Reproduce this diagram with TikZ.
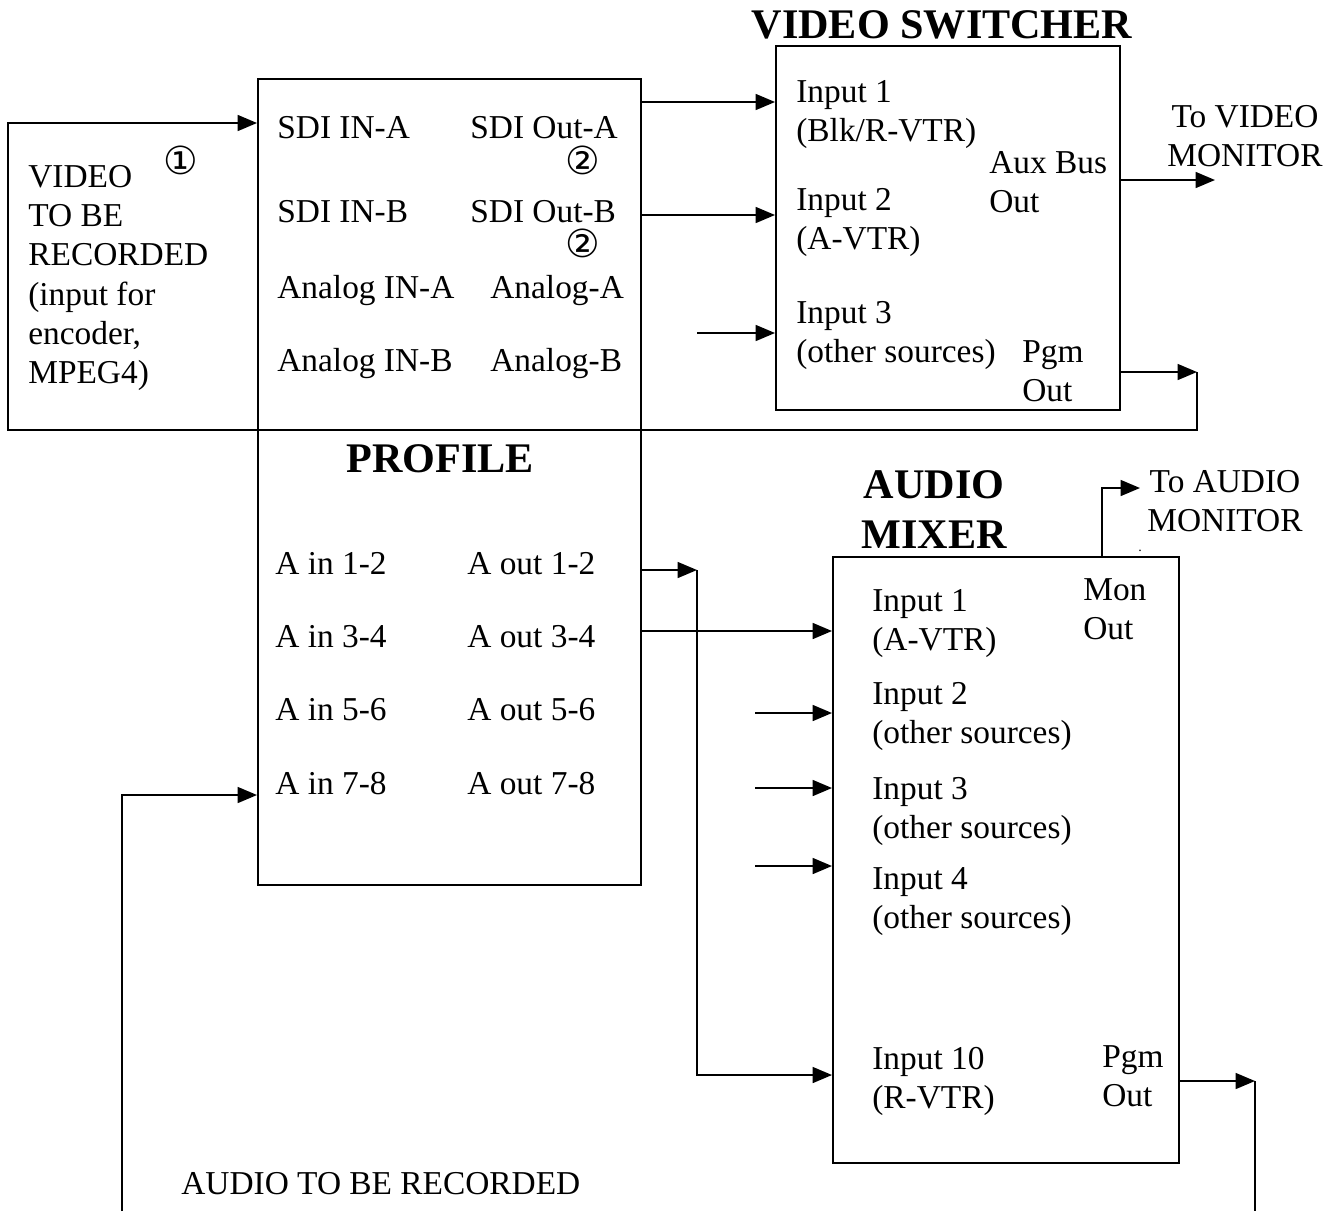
\documentclass[tikz,border=0pt]{standalone}
\usepackage{fontspec}
\setmainfont{Liberation Serif}
\newfontfamily\symfont{DejaVu Sans}
\usetikzlibrary{arrows.meta,fit}
\begin{document}
\begin{tikzpicture}[x=0.02cm,y=-0.02cm,
 lw/.style={line width=1.1pt},
 arr/.style={lw,-{Triangle[length=11pt,width=9pt]}},
 box/.style={draw,lw,inner sep=0pt},
 txt/.style={inner sep=0pt,anchor=base west,align=left,font=\fontsize{19}{22.2}\selectfont},
 ctxt/.style={inner sep=0pt,anchor=base,align=center,font=\fontsize{19}{22.2}\selectfont},
 ttl/.style={inner sep=0pt,anchor=base,align=center,font=\bfseries\fontsize{24}{28.3}\selectfont},
 num/.style={inner sep=0pt,font=\symfont\fontsize{22}{22}\selectfont}]
\useasboundingbox (0,0) rectangle (1341,1211);

% boxes
\coordinate (pA) at (258,79);
\coordinate (pB) at (641,885);
\coordinate (vA) at (776,46);
\coordinate (vB) at (1120,410);
\coordinate (mA) at (833,557);
\coordinate (mB) at (1179,1163);
\node[box,fit=(pA)(pB)] (prof) {};
\node[box,fit=(vA)(vB)] (vs) {};
\node[box,fit=(mA)(mB)] (am) {};

% titles (base anchor = last line baseline)
\node[ttl] (vst) at (942,38) {VIDEO SWITCHER};
\node[ttl] (proft) at (440,472) {PROFILE};
\node[ttl] (amt) at (934,548) {AUDIO\\MIXER};

% left text
\node[txt] (vin) at (28,383) {VIDEO\\TO BE\\RECORDED\\(input for\\encoder,\\MPEG4)};
\node[num] (n1) at (181,160) {①};

% profile texts
\node[txt] (sia) at (277,138) {SDI IN-A};
\node[txt] (soa) at (470,138) {SDI Out-A};
\node[num] (n2a) at (583,160) {②};
\node[txt] (sib) at (277,222) {SDI IN-B};
\node[txt] (sob) at (470,222) {SDI Out-B};
\node[num] (n2b) at (583,243) {②};
\node[txt] (aia) at (277,298) {Analog IN-A};
\node[txt] (aoa) at (490,298) {Analog-A};
\node[txt] (aib) at (277,371) {Analog IN-B};
\node[txt] (aob) at (490,371) {Analog-B};
\node[txt] (ai12) at (275,574) {A in 1-2};
\node[txt] (ao12) at (467,574) {A out 1-2};
\node[txt] (ai34) at (275,647) {A in 3-4};
\node[txt] (ao34) at (467,647) {A out 3-4};
\node[txt] (ai56) at (275,720) {A in 5-6};
\node[txt] (ao56) at (467,720) {A out 5-6};
\node[txt] (ai78) at (275,794) {A in 7-8};
\node[txt] (ao78) at (467,794) {A out 7-8};

% switcher texts
\node[txt] (vi1) at (796,141) {Input 1\\(Blk/R-VTR)};
\node[txt] (vi2) at (796,249) {Input 2\\(A-VTR)};
\node[txt] (vi3) at (796,362) {Input 3\\(other sources)};
\node[txt] (vaux) at (989,212) {Aux Bus\\Out};
\node[txt] (vpgm) at (1022,401) {Pgm\\Out};
\node[ctxt] (vmont) at (1245,166) {To VIDEO\\MONITOR};

% mixer texts
\node[txt] (mi1) at (872,650) {Input 1\\(A-VTR)};
\node[txt] (mi2) at (872,743) {Input 2\\(other sources)};
\node[txt] (mi3) at (872,838) {Input 3\\(other sources)};
\node[txt] (mi4) at (872,928) {Input 4\\(other sources)};
\node[txt] (mi10) at (872,1108) {Input 10\\(R-VTR)};
\node[txt] (mmon) at (1083,639) {Mon\\Out};
\node[txt] (mpgm) at (1102,1106) {Pgm\\Out};
\node[ctxt] (amont) at (1225,531) {To AUDIO\\MONITOR};
\node[inner sep=0pt,font=\fontsize{8}{8}\selectfont] (dot) at (1140,551) {.};
\node[txt] (audt) at (181,1194) {AUDIO TO BE RECORDED};

% video connectors
\coordinate (fbk) at (1197,372);
\coordinate (fbk1) at (1197,430);
\coordinate (fbk2) at (8,430);
\coordinate (fbk3) at (8,123);
\coordinate (so1) at (641,102);
\coordinate (so2) at (641,215);
\draw[arr] (vs.east |- fbk) -- (fbk);
\draw[arr] (fbk) -- (fbk1) -- (fbk2) -- (fbk3) -- (prof.west |- fbk3);
\draw[arr] (prof.east |- so1) -- (vs.west |- so1);
\draw[arr] (prof.east |- so2) -- (vs.west |- so2);
\coordinate (vs3) at (697,333);
\draw[arr] (vs3) -- (vs.west |- vs3);
\coordinate (vmon) at (1215,180);
\draw[arr] (vs.east |- vmon) -- (vmon);

% audio connectors
\coordinate (a12) at (697,570);
\coordinate (a12b) at (697,1075);
\coordinate (a34) at (641,631);
\draw[arr] (prof.east |- a12) -- (a12);
\draw[arr] (a12) -- (a12b) -- (am.west |- a12b);
\draw[arr] (prof.east |- a34) -- (am.west |- a34);
\coordinate (mi2s) at (755,713);
\coordinate (mi3s) at (755,788);
\coordinate (mi4s) at (755,866);
\draw[arr] (mi2s) -- (am.west |- mi2s);
\draw[arr] (mi3s) -- (am.west |- mi3s);
\draw[arr] (mi4s) -- (am.west |- mi4s);
\coordinate (amon) at (1140,488);
\coordinate (amonc) at (1102,488);
\draw[arr] (am.north -| amonc) -- (amonc) -- (amon);
\coordinate (apgm) at (1255,1081);
\coordinate (apgmend) at (1255,1211);
\draw[arr] (am.east |- apgm) -- (apgm);
\draw[lw] (apgm) -- (apgmend);
\coordinate (ain) at (122,1211);
\coordinate (ainc) at (122,795);
\draw[arr] (ain) -- (ainc) -- (prof.west |- ainc);
\end{tikzpicture}
\end{document}
